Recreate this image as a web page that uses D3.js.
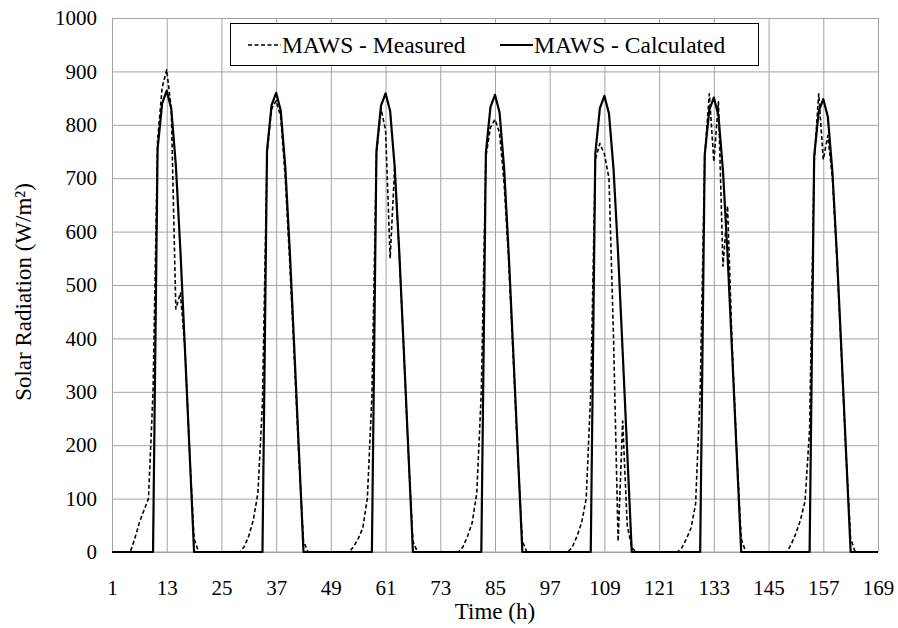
<!DOCTYPE html>
<html><head><meta charset="utf-8">
<script src="https://cdn.jsdelivr.net/npm/d3@7"></script>
<style>
body{margin:0;background:#fff}
svg{display:block}
</style></head>
<body><svg id="c" width="898" height="628"></svg>
<script>
// Hours 1..169
const hours = d3.range(1, 170);
const xTickLabels = [1, 13, 25, 37, 49, 61, 73, 85, 97, 109, 121, 133, 145, 157, 169];
const yTickLabels = [0, 100, 200, 300, 400, 500, 600, 700, 800, 900, 1000];
const seriesNames = ["MAWS - Measured", "MAWS - Calculated"];

const measured = [
  0,0,0,0,0,25,55,78,100,300,770,870,903,830,455,485,380,190,25,0,0,0,0,0,
  0,0,0,0,0,10,30,60,110,280,745,830,845,815,700,540,360,175,20,0,0,0,0,0,
  0,0,0,0,0,10,25,45,100,290,745,830,790,550,720,560,375,185,20,0,0,0,0,0,
  0,0,0,0,0,10,30,55,110,300,740,795,810,785,690,545,365,180,20,0,0,0,0,0,
  0,0,0,0,0,10,30,55,100,300,735,765,745,700,400,20,245,50,8,0,0,0,0,0,
  0,0,0,0,0,8,25,45,90,300,740,858,731,843,535,648,390,190,25,0,0,0,0,0,
  0,0,0,0,0,15,35,60,95,230,730,858,735,780,700,545,365,180,25,0,0,0,0,0,
  0
];
const calculated = [
  0,0,0,0,0,0,0,0,0,0,755,840,864,830,725,565,380,190,0,0,0,0,0,0,
  0,0,0,0,0,0,0,0,0,0,752,837,860,827,722,563,378,189,0,0,0,0,0,0,
  0,0,0,0,0,0,0,0,0,0,751,836,859,826,721,562,378,189,0,0,0,0,0,0,
  0,0,0,0,0,0,0,0,0,0,748,833,856,823,719,560,376,188,0,0,0,0,0,0,
  0,0,0,0,0,0,0,0,0,0,746,831,854,821,717,559,375,187,0,0,0,0,0,0,
  0,0,0,0,0,0,0,0,0,0,744,828,851,818,714,557,374,187,0,0,0,0,0,0,
  0,0,0,0,0,0,0,0,0,0,741,825,848,815,712,555,373,186,0,0,0,0,0,0,
  0
];

const FONT = "Liberation Serif";
const svg = d3.select("#c");
const L = 112, R = 878, T = 18, B = 552;
const x = d3.scaleLinear().domain([1, 169]).range([L, R]);
const y = d3.scaleLinear().domain([0, 1000]).range([B, T]);
const gridColor = "#a3a3a3";

// Y axis with gridlines
const yAxis = svg.append("g").attr("transform", `translate(${L},0)`)
  .call(d3.axisLeft(y).tickValues(yTickLabels).tickSize(-(R - L)).tickPadding(15).tickFormat(d3.format("d")));
yAxis.attr("font-family", FONT).attr("font-size", 21);
yAxis.select(".domain").remove();
yAxis.selectAll("line").attr("stroke", gridColor).attr("stroke-width", 1);

// X axis with gridlines
const xAxis = svg.append("g").attr("transform", `translate(0,${B})`)
  .call(d3.axisBottom(x).tickValues(xTickLabels).tickSize(-(B - T)).tickPadding(28).tickFormat(d3.format("d")));
xAxis.attr("font-family", FONT).attr("font-size", 21);
xAxis.select(".domain").remove();
xAxis.selectAll("line").attr("stroke", gridColor).attr("stroke-width", 1);

// bottom axis line
svg.append("line").attr("x1", L).attr("x2", R).attr("y1", B).attr("y2", B)
  .attr("stroke", gridColor).attr("stroke-width", 1);

const line = d3.line().x((d, i) => x(hours[i])).y(d => y(d));

svg.append("path").datum(measured).attr("d", line)
  .attr("fill", "none").attr("stroke", "#000").attr("stroke-width", 1.6)
  .attr("stroke-dasharray", "4,2.5").attr("stroke-linejoin", "round");
svg.append("path").datum(calculated).attr("d", line)
  .attr("fill", "none").attr("stroke", "#000").attr("stroke-width", 2.2)
  .attr("stroke-linejoin", "round");

// Axis titles
svg.append("text").attr("x", 495).attr("y", 619).attr("text-anchor", "middle")
  .attr("font-family", FONT).attr("font-size", 23).text("Time (h)");
svg.append("text").attr("transform", "translate(31,292) rotate(-90)").attr("text-anchor", "middle")
  .attr("font-family", FONT).attr("font-size", 23).text("Solar Radiation (W/m²)");

// Legend
const lg = svg.append("g").attr("font-family", FONT).attr("font-size", 23.5);
lg.append("rect").attr("x", 230.5).attr("y", 23.5).attr("width", 528).attr("height", 42)
  .attr("fill", "#fff").attr("stroke", "#000").attr("stroke-width", 1);
lg.append("line").attr("x1", 248).attr("x2", 281).attr("y1", 45).attr("y2", 45)
  .attr("stroke", "#000").attr("stroke-width", 1.6).attr("stroke-dasharray", "4,2.5");
lg.append("text").attr("x", 282).attr("y", 53).text(seriesNames[0]);
lg.append("line").attr("x1", 500).attr("x2", 533).attr("y1", 45).attr("y2", 45)
  .attr("stroke", "#000").attr("stroke-width", 2.2);
lg.append("text").attr("x", 534).attr("y", 53).text(seriesNames[1]);
</script>
</body></html>
